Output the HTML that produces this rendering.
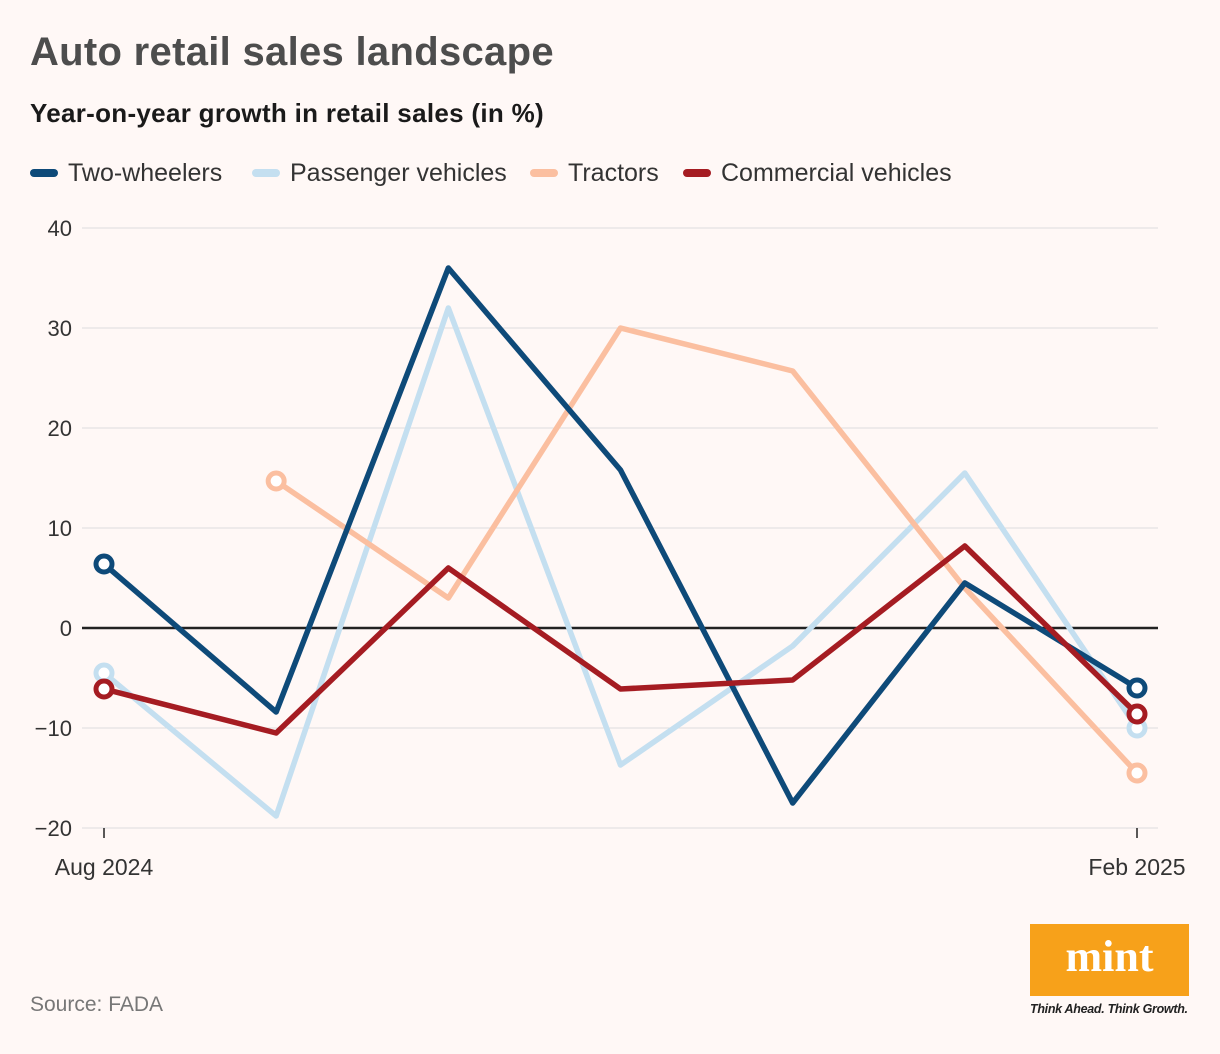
<!DOCTYPE html>
<html><head><meta charset="utf-8"><style>
body{margin:0;background:#fff8f6;font-family:"Liberation Sans",sans-serif;}
#wrap{position:relative;width:1220px;height:1054px;overflow:hidden;}
.t{position:absolute;white-space:nowrap;}
</style></head><body>
<div id="wrap">
<div class="t" style="left:30px;top:30px;font-size:40px;font-weight:bold;color:#4d4d4d;letter-spacing:0.3px">Auto retail sales landscape</div>
<div class="t" style="left:30px;top:98px;font-size:26px;font-weight:bold;color:#1a1a1a;letter-spacing:0.3px">Year-on-year growth in retail sales (in %)</div>
<div class="t" style="left:30px;top:993px;font-size:21px;color:#777">Source: FADA</div>
<div style="position:absolute;left:1030px;top:924px;width:159px;height:72px;background:#f7a11a;color:#fff;font-family:'Liberation Serif',serif;font-weight:bold;font-size:44px;text-align:center;line-height:66px">mint</div>
<div class="t" style="left:1030px;top:1002px;font-size:12.5px;font-style:italic;font-weight:bold;color:#222;letter-spacing:-0.3px">Think Ahead. Think Growth.</div>
<svg id="svg" width="1220" height="1054" style="position:absolute;left:0;top:0"></svg>
</div>
<script>
const categories=["Aug 2024","Sep 2024","Oct 2024","Nov 2024","Dec 2024","Jan 2025","Feb 2025"];
const twoWheelers=[6.4,-8.4,36,15.8,-17.5,4.5,-6];
const passengerVehicles=[-4.5,-18.8,32,-13.7,-1.8,15.5,-10];
const tractors=[null,14.7,3,30,25.7,4,-14.5];
const commercialVehicles=[-6.1,-10.5,6,-6.1,-5.2,8.2,-8.6];
const yTicks=[40,30,20,10,0,-10,-20];
const seriesNames=["Two-wheelers","Passenger vehicles","Tractors","Commercial vehicles"];
const NS="http://www.w3.org/2000/svg";
const svg=document.getElementById('svg');
const x=i=>104+i*(1137-104)/(categories.length-1);
const y=v=>628-v*10;
function mk(t,a){const e=document.createElementNS(NS,t);for(const k in a)e.setAttribute(k,a[k]);svg.appendChild(e);return e;}
yTicks.forEach(v=>{
 const l=mk('line',{x1:82,x2:1158,y1:y(v),y2:y(v),stroke:v===0?'#222':'#dddddd','stroke-width':v===0?2.5:1});
 
 
 const t=mk('text',{x:72,y:y(v)+8,'text-anchor':'end','font-size':22,fill:'#333','font-family':'Liberation Sans, sans-serif'});
 t.textContent=(v<0?'\u2212'+(-v):v);
 
 
});
[0,categories.length-1].forEach(i=>{
 const l=mk('line',{x1:x(i),x2:x(i),y1:828,y2:838,stroke:'#222','stroke-width':1.5});
 
 
 const t=mk('text',{x:x(i),y:875,'text-anchor':'middle','font-size':23,fill:'#333','font-family':'Liberation Sans, sans-serif'});
 t.textContent=categories[i];
 
 
});
const series=[[passengerVehicles,'#c4dff0'],[tractors,'#fbbfa0'],[twoWheelers,'#0e4a79'],[commercialVehicles,'#a51c22']];
const names={0:'passenger-vehicles',1:'tractors',2:'two-wheelers',3:'commercial-vehicles'};
series.forEach(([d,c],si)=>{
 let pts=[];d.forEach((v,i)=>{if(v!==null)pts.push([x(i),y(v)]);});
 const p=mk('polyline',{points:pts.map(q=>q.join(',')).join(' '),fill:'none',stroke:c,'stroke-width':5.5,'stroke-linejoin':'round'});
 
 
 [pts[0],pts[pts.length-1]].forEach(q=>{
  const m=mk('circle',{cx:q[0],cy:q[1],r:8,fill:'#fff',stroke:c,'stroke-width':5});
  
  
 });
});
const leg=[[30,'#0e4a79'],[252,'#c4dff0'],[530,'#fbbfa0'],[683,'#a51c22']];
leg.forEach(([lx,c],i)=>{
 const l=mk('line',{x1:lx+4,x2:lx+24,y1:173,y2:173,stroke:c,'stroke-width':8,'stroke-linecap':'round'});
 
 
 const t=mk('text',{x:lx+38,y:181,'font-size':25,fill:'#333','font-family':'Liberation Sans, sans-serif'});
 t.textContent=seriesNames[i];
 
 
});
</script>
</body></html>
